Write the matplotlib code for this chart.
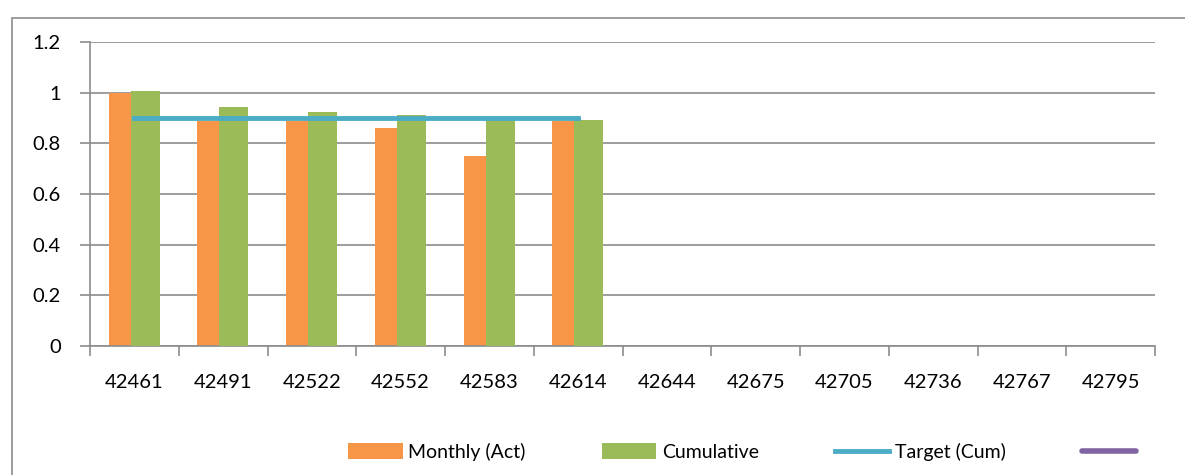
import matplotlib.pyplot as plt
from matplotlib.patches import Rectangle
import numpy as np

# данные с графика
months = ["42461", "42491", "42522", "42552", "42583", "42614",
          "42644", "42675", "42705", "42736", "42767", "42795"]
monthly_act = [1.0, 0.89, 0.89, 0.86, 0.75, 0.89]
cumulative = [1.007, 0.943, 0.925, 0.912, 0.90, 0.893]
target_cum = [0.9, 0.9, 0.9, 0.9, 0.9, 0.9]

ORANGE = "#F79646"
GREEN = "#9BBB59"
BLUE = "#4BACC6"
PURPLE = "#8064A2"
GRID = "#8C8C8C"

plt.rcParams['font.family'] = ['Lato', 'DejaVu Sans']

fig = plt.figure(figsize=(11.85, 4.75), dpi=100)
ax = fig.add_axes([90 / 1185, 1 - 346 / 475, 1065 / 1185, 304 / 475])

# рамка вокруг диаграммы
fig.add_artist(Rectangle((12 / 1185, -0.1), 1.2, 1 - 18 / 475 + 0.1,
                         transform=fig.transFigure, fill=False,
                         edgecolor="#8C8C8C", lw=1.2))

x = np.arange(len(monthly_act))
w = 0.327
b1 = ax.bar(x - 0.126, monthly_act, width=w, color=ORANGE, zorder=2, label="Monthly (Act)")
b2 = ax.bar(x + 0.122, cumulative, width=w, color=GREEN, zorder=3, label="Cumulative")
l1, = ax.plot(x, target_cum, color=BLUE, lw=3.5, zorder=4, label="Target (Cum)")
l2, = ax.plot([], [], color=PURPLE, lw=4, solid_capstyle="round", label=" ")

ax.set_xlim(-0.5, len(months) - 0.5)
ax.set_ylim(0, 1.2)
ax.set_yticks(np.arange(0, 1.21, 0.2))
ax.set_yticklabels(["0", "0.2", "0.4", "0.6", "0.8", "1", "1.2"])
ax.set_xticks(np.arange(len(months)))
ax.set_xticklabels(months)
ax.set_xticks(np.arange(-0.5, len(months), 1), minor=True)
ax.tick_params(axis="x", which="major", length=0, pad=20, labelsize=14.5)
ax.tick_params(axis="x", which="minor", length=7, color=GRID, width=1.2)
ax.tick_params(axis="y", length=7, color=GRID, width=1.2, labelsize=14.5, pad=14)

ax.grid(axis="y", color=GRID, lw=1.2, zorder=0)
ax.set_axisbelow(True)
for s in ["top", "right"]:
    ax.spines[s].set_visible(False)
for s in ["left", "bottom"]:
    ax.spines[s].set_color(GRID)
    ax.spines[s].set_linewidth(1.2)

fig.legend(handles=[b1, b2, l1, l2],
           labels=["Monthly (Act)", "Cumulative", "Target (Cum)", ""],
           loc="center", bbox_to_anchor=(745 / 1185, 1 - 452 / 475), ncol=4,
           frameon=False, fontsize=14, handlelength=2.8, handleheight=0.9,
           columnspacing=3.9, handletextpad=0.3)

plt.savefig("out.png", dpi=100)
